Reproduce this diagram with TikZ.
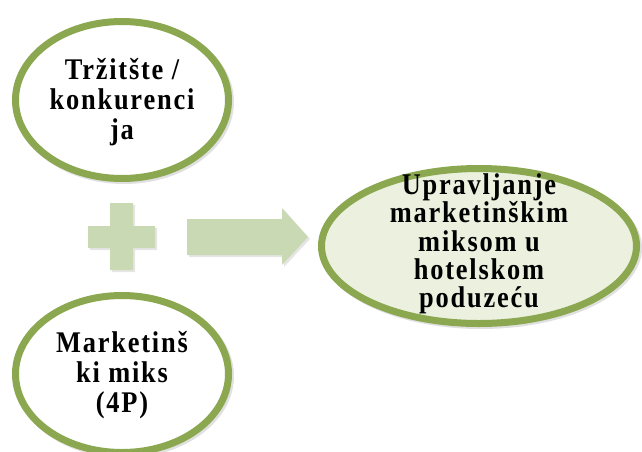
\documentclass[tikz,border=0pt]{standalone}
\usepackage{fontspec}
\newfontfamily\labfont{Liberation Serif}[LetterSpace=6, FakeStretch=0.88]
\usetikzlibrary{shapes.geometric}
\definecolor{rimgreen}{HTML}{8BA750}
\definecolor{palegreen}{HTML}{EBF1DE}
\definecolor{shapegreen}{HTML}{C8D9B3}
\tikzset{
  bubble/.style={ellipse, draw=rimgreen, line width=7pt, inner sep=0pt},
  shade/.style={ellipse, fill=black, opacity=0.12, draw=none, inner sep=0pt},
  lab/.style={align=center, inner sep=0pt, font=\labfont\bfseries\fontsize{30}{30}\selectfont},
  labR/.style={align=center, inner sep=0pt, font=\labfont\bfseries\fontsize{30}{28.3}\selectfont},
  block/.style={fill=shapegreen, draw=none},
  blockshadow/.style={fill=black, opacity=0.10, draw=none}
}
\begin{document}
\begin{tikzpicture}[x=1pt,y=-1pt]
\useasboundingbox (0,0) rectangle (642,451);
% shadows
\node[shade, minimum width=220pt, minimum height=164pt] at (124,102) {};
\node[shade, minimum width=220pt, minimum height=164pt] at (124,376) {};
\node[shade, minimum width=322pt, minimum height=162pt] at (481,248) {};
% ellipses
\node[bubble, fill=white, minimum width=213pt, minimum height=157pt] (mkt) at (122,100) {};
\node[bubble, fill=white, minimum width=213pt, minimum height=157pt] (mix) at (122,374) {};
\node[bubble, fill=palegreen, minimum width=315pt, minimum height=155pt] (mgmt) at (479,246) {};
% texts
\node[lab] (tmkt) at ([yshift=-2pt]mkt.center) {Tržitšte /\\konkurenci\\ja};
\node[lab] (tmix) at ([yshift=-1pt]mix.center) {Marketinš\\ki miks\\(4P)};
\node[labR] (tmgmt) at ([yshift=2pt]mgmt.center) {Upravljanje\\marketinškim\\miksom u\\hotelskom\\poduzeću};
% plus sign
\path[blockshadow] (90,228) -- (112,228) -- (112,205) -- (135,205) -- (135,228) -- (157,228) -- (157,250) -- (135,250) -- (135,272) -- (112,272) -- (112,250) -- (90,250) -- cycle;
\path[block] (88,226) -- (110,226) -- (110,203) -- (133,203) -- (133,226) -- (155,226) -- (155,248) -- (133,248) -- (133,270) -- (110,270) -- (110,248) -- (88,248) -- cycle;
% arrow
\path[blockshadow] (189,221) -- (284,221) -- (284,210) -- (310,239) -- (284,267) -- (284,257) -- (189,257) -- cycle;
\path[block] (187,219) -- (282,219) -- (282,208) -- (308,237) -- (282,265) -- (282,255) -- (187,255) -- cycle;
\end{tikzpicture}
\end{document}
